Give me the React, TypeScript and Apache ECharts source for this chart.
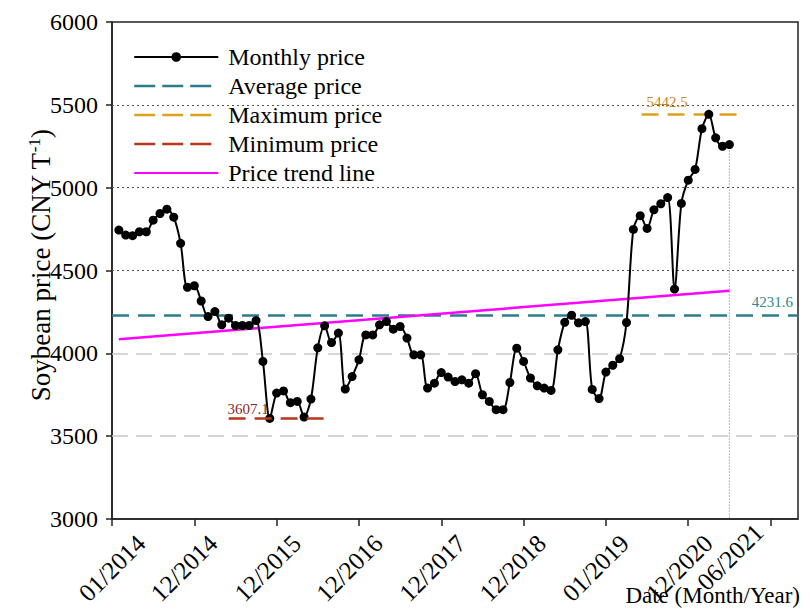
import React, { useEffect, useRef } from 'react';
import * as echarts from 'echarts';

// x axis ticks (month index from the start of the axis)
const xTickValues = [0, 12, 24, 36, 48, 60, 72, 84, 96];
// tick labels and where their centres sit along the axis
const xTickLabels = ['01/2014', '12/2014', '12/2015', '12/2016', '12/2017', '12/2018', '01/2019', '12/2020', '06/2021'];
const xLabelPositions = [0, 10.5, 22.7, 34.6, 46.7, 58.4, 70.5, 82.7, 90.1];

// monthly soybean price (CNY per tonne), 90 months, plotted at positions 1..90
const monthlyPrice = [
  4744, 4714, 4710, 4734, 4734, 4804, 4844, 4870, 4822, 4664,
  4399, 4408, 4316, 4222, 4252, 4172, 4212, 4168, 4168, 4168,
  4198, 3951, 3607.1, 3760, 3773, 3702, 3710, 3615, 3724, 4033,
  4166, 4065, 4122, 3784, 3860, 3961, 4111, 4111, 4172, 4192,
  4146, 4162, 4092, 3991, 3991, 3790, 3820, 3884, 3857, 3830,
  3840, 3820, 3877, 3750, 3710, 3660, 3660, 3824, 4031, 3951,
  3851, 3804, 3790, 3776, 4021, 4187, 4230, 4184, 4192, 3782,
  3727, 3887, 3928, 3968, 4186, 4748, 4831, 4754, 4866, 4903,
  4940, 4388, 4905, 5045, 5110, 5356, 5442.5, 5301, 5250, 5260,
];

const averagePrice = 4231.6;
const maximumPrice = 5442.5;
const minimumPrice = 3607.1;
const maxLineSpan = [77.2, 92];
const minLineSpan = [17, 32.1];
const trendX = [1, 90];
const trendY = [4085, 4378];
const dottedGridValues = [4500, 5000, 5500];
const dashedGridValues = [3500, 4000];

const FONT = 'Liberation Serif';
const AVG_COLOR = '#2c7b8c';
const MAX_COLOR = '#dca21c';
const MIN_COLOR = '#b8361c';
const PLOT_DASH = [17, 9];
const LEGEND_DASH = [21, 7];

export default function App() {
  const ref = useRef<HTMLDivElement>(null);

  useEffect(() => {
    if (!ref.current) return;
    const chart = echarts.init(ref.current, null, { renderer: 'svg' });
    const priceData = monthlyPrice.map((v, i) => [i + 1, v]);
    const lastIdx = monthlyPrice.length;
    const legendDashed = (name: string, color: string) => ({
      name,
      itemStyle: { opacity: 0 },
      lineStyle: { color, type: LEGEND_DASH, width: 2.5 },
    });
    const nLab = xLabelPositions.length;
    const labelFormatter = (v: number) => {
      const k = xLabelPositions.indexOf(v);
      return k >= 0 ? xTickLabels[k] : '';
    };
    const labelAxis = (values: number[], margin: number) => ({
      type: 'value',
      position: 'bottom',
      min: 0,
      max: 100,
      axisLine: { show: false },
      axisTick: { show: false },
      axisLabel: {
        customValues: values,
        formatter: labelFormatter,
        rotate: 45,
        align: 'center',
        verticalAlign: 'middle',
        margin,
        fontFamily: FONT,
        fontSize: 25,
        color: '#000',
      },
      splitLine: { show: false },
    });

    chart.setOption({
      animation: false,
      backgroundColor: '#ffffff',
      grid: {
        left: 112,
        right: 12,
        top: 22,
        bottom: 91,
        show: true,
        borderColor: '#222',
        borderWidth: 1.5,
      },
      legend: {
        data: [
          { name: 'Monthly price' },
          legendDashed('Average price', AVG_COLOR),
          legendDashed('Maximum price', MAX_COLOR),
          legendDashed('Minimum price', MIN_COLOR),
          { name: 'Price trend line', itemStyle: { opacity: 0 } },
        ],
        orient: 'vertical',
        left: 133,
        top: 45,
        itemWidth: 84,
        itemHeight: 12,
        itemGap: 5,
        padding: 0,
        selectedMode: false,
        textStyle: { fontFamily: FONT, fontSize: 24, color: '#000', padding: [0, 0, 0, 5] },
      },
      xAxis: [
        {
          type: 'value',
          min: 0,
          max: 100,
          axisLine: { show: true, lineStyle: { color: '#222', width: 1.5 } },
          axisTick: { show: true, customValues: xTickValues, length: 7, lineStyle: { color: '#222', width: 1.5 } },
          axisLabel: { show: false },
          splitLine: { show: false },
        },
        labelAxis(xLabelPositions.slice(0, nLab - 1), 49),
        labelAxis(xLabelPositions.slice(nLab - 1), 38),
      ],
      yAxis: {
        type: 'value',
        min: 3000,
        max: 6000,
        interval: 500,
        name: '{a|Soybean price (CNY T}{s|-1}{a|)}',
        nameLocation: 'middle',
        nameGap: 71,
        nameMoveOverlap: false,
        nameTextStyle: {
          fontFamily: FONT,
          fontSize: 27,
          color: '#000',
          verticalAlign: 'middle',
          padding: [0, 0, 0, 10],
          rich: {
            a: { fontFamily: FONT, fontSize: 27, color: '#000', lineHeight: 30 },
            s: { fontFamily: FONT, fontSize: 17, color: '#000', lineHeight: 30, verticalAlign: 'top' },
          },
        },
        axisLine: { show: true, lineStyle: { color: '#222', width: 1.5 } },
        axisTick: { show: true, length: 6, lineStyle: { color: '#222', width: 1.5 } },
        axisLabel: { fontFamily: FONT, fontSize: 24, color: '#000', margin: 14, formatter: (v: number) => String(v) },
        splitLine: { show: false },
      },
      graphic: [
        {
          type: 'text',
          right: 10,
          bottom: 3,
          style: { text: 'Date (Month/Year)', fontFamily: FONT, fontSize: 23, fill: '#000' },
        },
      ],
      series: [
        {
          name: 'gridlines',
          type: 'line',
          data: [],
          silent: true,
          z: 1,
          markLine: {
            silent: true,
            z: 1,
            symbol: ['none', 'none'],
            label: { show: false },
            data: [
              ...dottedGridValues.map((v) => ({ yAxis: v, lineStyle: { color: '#555', type: [2, 3], width: 1 } })),
              ...dashedGridValues.map((v) => ({ yAxis: v, lineStyle: { color: '#c8c8c8', type: [16, 8], width: 1.5 } })),
            ],
          },
        },
        {
          name: 'Average price',
          type: 'line',
          data: [],
          symbol: 'none',
          z: 2,
          itemStyle: { color: AVG_COLOR },
          lineStyle: { color: AVG_COLOR, type: PLOT_DASH, width: 2.5 },
          markLine: {
            silent: true,
            z: 2,
            symbol: ['none', 'none'],
            lineStyle: { color: AVG_COLOR, type: PLOT_DASH, width: 2.5 },
            label: {
              show: true,
              position: 'insideEndTop',
              formatter: String(averagePrice),
              color: '#2f8a8a',
              fontFamily: FONT,
              fontSize: 15,
            },
            data: [{ yAxis: averagePrice }],
          },
        },
        {
          name: 'Maximum price',
          type: 'line',
          data: [],
          symbol: 'none',
          z: 2,
          itemStyle: { color: MAX_COLOR },
          lineStyle: { color: MAX_COLOR, type: PLOT_DASH, width: 2.5 },
          markLine: {
            silent: true,
            z: 2,
            symbol: ['none', 'none'],
            lineStyle: { color: MAX_COLOR, type: PLOT_DASH, width: 2.5 },
            label: {
              show: true,
              position: 'insideStartTop',
              formatter: String(maximumPrice),
              color: '#c8861e',
              fontFamily: FONT,
              fontSize: 15,
            },
            data: [[{ coord: [maxLineSpan[0], maximumPrice] }, { coord: [maxLineSpan[1], maximumPrice] }]],
          },
        },
        {
          name: 'Minimum price',
          type: 'line',
          data: [],
          symbol: 'none',
          z: 2,
          itemStyle: { color: MIN_COLOR },
          lineStyle: { color: MIN_COLOR, type: PLOT_DASH, width: 2.5 },
          markLine: {
            silent: true,
            z: 10,
            symbol: ['none', 'none'],
            lineStyle: { color: MIN_COLOR, type: PLOT_DASH, width: 2.5 },
            label: {
              show: true,
              position: 'insideStartTop',
              formatter: String(minimumPrice),
              color: '#8b2a2a',
              fontFamily: FONT,
              fontSize: 15,
              distance: [-1, 2],
            },
            data: [[{ coord: [minLineSpan[0], minimumPrice] }, { coord: [minLineSpan[1], minimumPrice] }]],
          },
        },
        {
          name: 'Price trend line',
          type: 'line',
          data: trendX.map((x, i) => [x, trendY[i]]),
          symbol: 'none',
          z: 3,
          itemStyle: { color: '#ff00ff' },
          lineStyle: { color: '#ff00ff', width: 2.5 },
        },
        {
          name: 'lastline',
          type: 'line',
          data: [[lastIdx, monthlyPrice[lastIdx - 1]], [lastIdx, 3000]],
          symbol: 'none',
          silent: true,
          z: 2,
          lineStyle: { color: '#777', type: [1, 2], width: 1 },
        },
        {
          name: 'Monthly price',
          type: 'line',
          data: priceData,
          smooth: 0.3,
          symbol: 'circle',
          symbolSize: 9,
          z: 5,
          itemStyle: { color: '#000' },
          lineStyle: { color: '#000', width: 2 },
        },
      ],
    });

    return () => chart.dispose();
  }, []);

  return (
    <div
      ref={ref}
      style={{ position: 'fixed', left: 0, top: 0, width: 810, height: 610, background: '#fff' }}
    />
  );
}
